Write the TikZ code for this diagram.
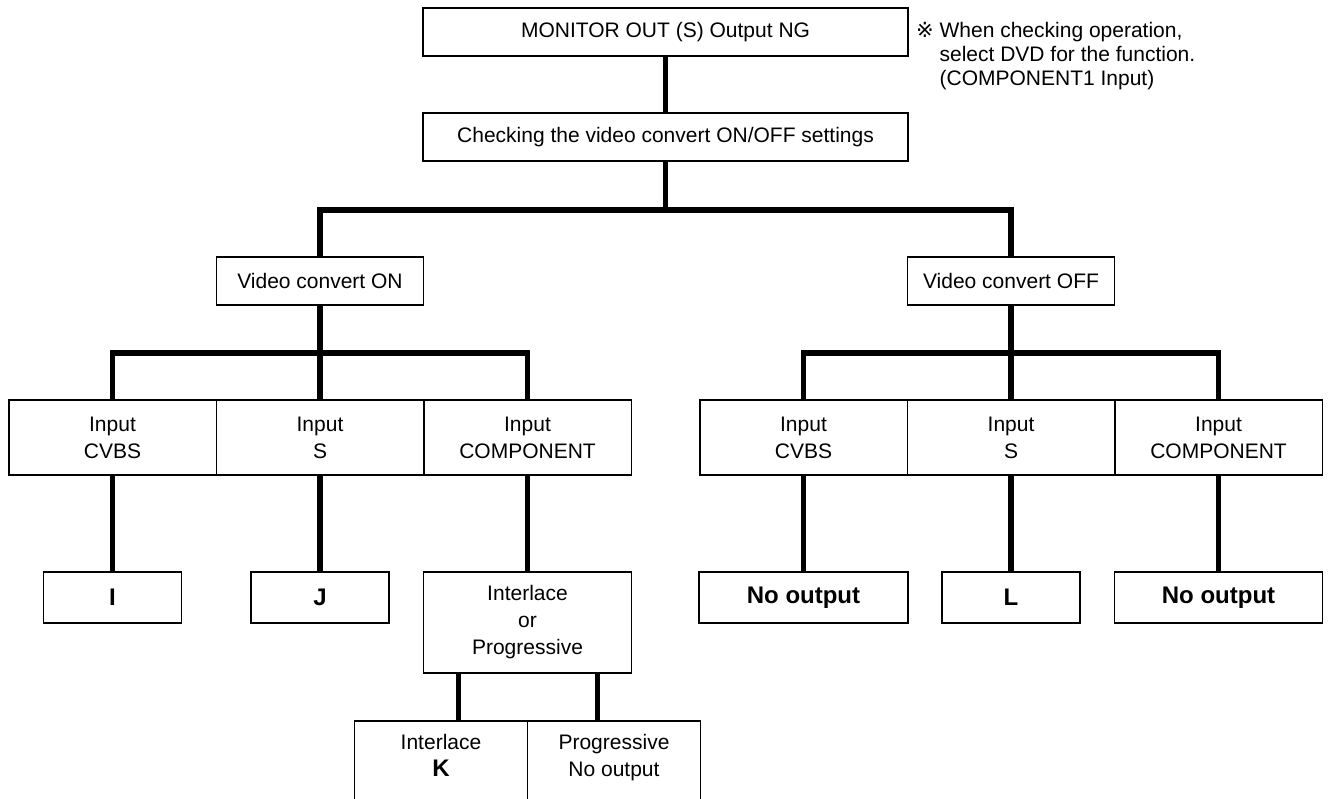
\documentclass[tikz,border=0pt]{standalone}
\usepackage{fontspec}
\setmainfont{Liberation Sans}
\newfontfamily\marksymfont{DejaVu Sans}
\usetikzlibrary{positioning}

\begin{document}
\begin{tikzpicture}[
  x=1pt,y=-1pt,
  box/.style={draw,line width=1.5pt,outer sep=0pt,inner sep=0pt,align=center,font=\fontsize{21}{27}\selectfont},
  inbox/.style={box,minimum width=207.5,minimum height=75},
  resbox/.style={box,minimum height=51,font=\fontsize{24}{28}\selectfont\bfseries},
  conn/.style={line width=5.5pt}
]
\useasboundingbox (0,0) rectangle (1329,798);
\node[box,minimum width=485,minimum height=48] (mon) at (665.5,32) {MONITOR OUT (S) Output NG};
\node[box,minimum width=485,minimum height=48] (chk) at (665.5,137) {Checking the video convert ON/OFF settings};
\node[anchor=north west,align=left,inner sep=0pt,font=\fontsize{21}{24}\selectfont] (note) at (916,22)
  {{\marksymfont ※} When checking operation,\\\phantom{{\marksymfont ※} }select DVD for the function.\\\phantom{{\marksymfont ※} }(COMPONENT1 Input)};

\node[box,minimum width=207,minimum height=48] (von) at (320,281) {Video convert ON};
\node[box,minimum width=207,minimum height=48] (voff) at (1011,281) {Video convert OFF};

% inputs, convert ON
\node[inbox] (oncvbs) at (112.5,437.5) {Input\\CVBS};
\node[inbox,right=0pt of oncvbs] (ons) {Input\\S};
\node[inbox,right=0pt of ons] (oncomp) {Input\\COMPONENT};
% inputs, convert OFF
\node[inbox] (offcvbs) at (803.5,437.5) {Input\\CVBS};
\node[inbox,right=0pt of offcvbs] (offs) {Input\\S};
\node[inbox,right=0pt of offs] (offcomp) {Input\\COMPONENT};

% results
\node[resbox,minimum width=138] (resi) at (112.5,597.5) {I};
\node[resbox,minimum width=138] (resj) at (320,597.5) {J};
\node[box,minimum width=208,minimum height=101] (ilp) at (527.5,622.5) {Interlace\\or\\Progressive};
\node[resbox,minimum width=209] (offno1) at (803.5,597.5) {No output};
\node[resbox,minimum width=138] (resl) at (1011,597.5) {L};
\node[resbox,minimum width=208] (offno2) at (1218.5,597.5) {No output};

\node[box,anchor=north east,minimum width=173,inner ysep=13pt] (intk) at (527.5,721)
  {\parbox[c][100pt][t]{170pt}{\centering Interlace\\{\fontsize{24}{27}\selectfont\bfseries K}}};
\node[box,anchor=north west,minimum width=173,inner ysep=13pt] (prog) at (527.5,721)
  {\parbox[c][100pt][t]{170pt}{\centering Progressive\\No output}};

\coordinate (topjoin) at (665.5,210);
\coordinate (onjoin) at (320,353);
\coordinate (offjoin) at (1011,353);

\draw[conn] (mon) -- (chk);
\draw[conn] (chk) -- (topjoin);
\draw[conn] (von.north) |- (topjoin) -| (voff.north);

\draw[conn] (von) -- (onjoin);
\draw[conn] (oncvbs.north) |- (onjoin) -| (oncomp.north);
\draw[conn] (onjoin) -- (ons.north);
\draw[conn] (voff) -- (offjoin);
\draw[conn] (offcvbs.north) |- (offjoin) -| (offcomp.north);
\draw[conn] (offjoin) -- (offs.north);

\draw[conn] (oncvbs) -- (resi);
\draw[conn] (ons) -- (resj);
\draw[conn] (oncomp) -- (ilp);
\draw[conn] (offcvbs) -- (offno1);
\draw[conn] (offs) -- (resl);
\draw[conn] (offcomp) -- (offno2);

\draw[conn] ([xshift=35]ilp.south west) -- ([xshift=35]ilp.south west |- intk.north);
\draw[conn] ([xshift=-34]ilp.south east) -- ([xshift=-34]ilp.south east |- prog.north);
\end{tikzpicture}
\end{document}
